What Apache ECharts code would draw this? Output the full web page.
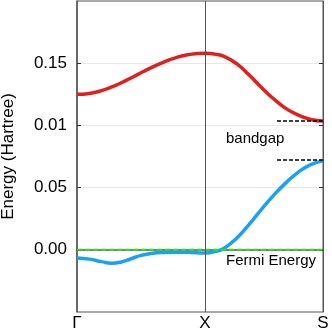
<!DOCTYPE html>
<html>
<head>
<meta charset="utf-8">
<script src="https://cdn.jsdelivr.net/npm/echarts@6/dist/echarts.min.js"></script>
<style>
  html, body { margin: 0; padding: 0; background: #fff; }
  #main { width: 332px; height: 332px; }
</style>
</head>
<body>
<div id="main"></div>
<script>
// k-path positions and labels
var kPos = [0, 0.52, 1];
var kLabels = ["Γ", "X", "S"];

// y ticks (the original labels 0.10 as "0.01")
var yTicks = [0, 0.05, 0.1, 0.15];
var yTickLabels = ["0.00", "0.05", "0.01", "0.15"];

// conduction band (red)
var bandUp = [
  [0, 0.125], [0.05, 0.1257], [0.1, 0.128], [0.15, 0.1316], [0.2, 0.1362],
  [0.25, 0.1412], [0.3, 0.1462], [0.35, 0.1507], [0.4, 0.1543], [0.45, 0.1568],
  [0.52, 0.158], [0.56, 0.1573], [0.6, 0.1553], [0.65, 0.1495], [0.7, 0.1405],
  [0.75, 0.1305], [0.8, 0.1212], [0.85, 0.1135], [0.9, 0.1082], [0.95, 0.1048],
  [1, 0.1035]
];

// valence band (blue)
var bandDown = [
  [0, -0.0065], [0.05, -0.0075], [0.1, -0.0095], [0.14, -0.0108], [0.18, -0.0098],
  [0.22, -0.0072], [0.26, -0.0045], [0.3, -0.003], [0.35, -0.0022], [0.4, -0.002],
  [0.45, -0.002], [0.52, -0.0026], [0.56, -0.0015], [0.6, 0.0015], [0.65, 0.0095],
  [0.7, 0.0205], [0.75, 0.0325], [0.8, 0.044], [0.85, 0.054], [0.9, 0.0625],
  [0.95, 0.0685], [1, 0.0715]
];

var fermi = [[0, 0], [1, 0]];
var gapTop = 0.104, gapBottom = 0.072, gapStart = 0.813;

var myChart = echarts.init(document.getElementById("main"));
var font = "Liberation Sans, Arial, sans-serif";

var option = {
  animation: false,
  grid: {
    left: 77, right: 9, top: 1, bottom: 20,
    containLabel: false, outerBoundsMode: "none",
    show: true, borderColor: "#555", borderWidth: 1
  },
  xAxis: {
    type: "value", min: 0, max: 1,
    axisLine: { show: true, lineStyle: { color: "#555", width: 1.5 } },
    axisTick: { show: false },
    splitLine: { show: false },
    axisLabel: {
      customValues: kPos,
      formatter: function (v) {
        var i = kPos.indexOf(v);
        return i >= 0 ? kLabels[i] : "";
      },
      color: "#000", fontSize: 17, fontFamily: font, margin: 3
    }
  },
  yAxis: [
    {
      type: "value", min: -0.05, max: 0.2, interval: 0.05,
      name: "Energy (Hartree)", nameLocation: "middle", nameGap: 60,
      nameTextStyle: { color: "#000", fontSize: 17, fontFamily: font },
      axisLine: { show: true, lineStyle: { color: "#555", width: 1.5 } },
      axisTick: { show: true, inside: true, length: 4, customValues: yTicks, lineStyle: { color: "#333" } },
      splitLine: { show: true, lineStyle: { color: "#e8e8e8" } },
      axisLabel: {
        customValues: yTicks,
        formatter: function (v) {
          for (var i = 0; i < yTicks.length; i++) {
            if (Math.abs(yTicks[i] - v) < 1e-9) return yTickLabels[i];
          }
          return "";
        },
        color: "#000", fontSize: 17, fontFamily: font, margin: 10
      }
    },
    {
      type: "value", min: -0.05, max: 0.2, interval: 0.05, position: "right",
      axisLine: { show: true, lineStyle: { color: "#555" } },
      axisTick: { show: true, inside: true, length: 4, customValues: yTicks, lineStyle: { color: "#333" } },
      axisLabel: { show: false },
      splitLine: { show: false }
    }
  ],
  series: [
    {
      type: "line", data: fermi, showSymbol: false, silent: true, z: 3,
      lineStyle: { color: "#22ee00", width: 2, type: [5, 3] },
      markLine: {
        silent: true, symbol: "none", label: { show: false },
        data: [
          { xAxis: kPos[1], lineStyle: { color: "#555", width: 1, type: "solid" } },
          [{ coord: [gapStart, gapTop] }, { coord: [1, gapTop] }],
          [{ coord: [gapStart, gapBottom] }, { coord: [1, gapBottom] }]
        ],
        lineStyle: { color: "#000", width: 1.5, type: [4, 2] }
      }
    },
    {
      type: "line", data: bandUp, smooth: true, showSymbol: false,
      lineStyle: { color: "#e0201c", width: 3.5 }
    },
    {
      type: "line", data: bandDown, smooth: true, showSymbol: false, z: 2,
      lineStyle: { color: "#1aa0f5", width: 3.5 }
    }
  ],
  graphic: [
    { type: "text", left: 226, top: 131, style: { text: "bandgap", fontSize: 15, fontFamily: font, fill: "#000" } },
    { type: "text", left: 226, top: 253, style: { text: "Fermi Energy", fontSize: 15, fontFamily: font, fill: "#000" } }
  ]
};

myChart.setOption(option);
</script>
</body>
</html>
